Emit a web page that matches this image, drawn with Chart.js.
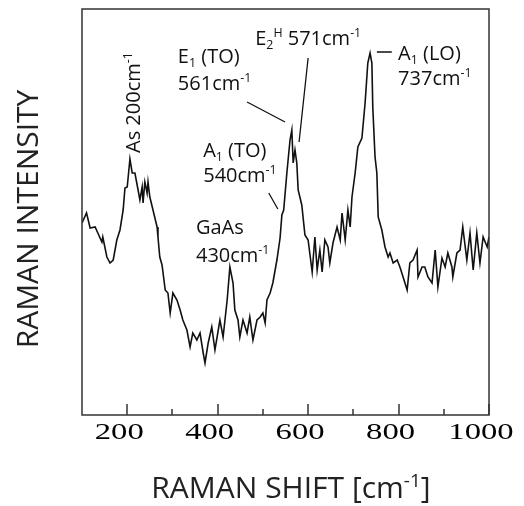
<!DOCTYPE html>
<html>
<head>
<meta charset="utf-8">
<script src="https://cdn.jsdelivr.net/npm/chart.js@4.4.1/dist/chart.umd.min.js"></script>
<style>
  html, body { margin: 0; padding: 0; background: #fff; }
  #wrap { width: 524px; height: 506px; }
</style>
</head>
<body>
<div id="wrap"><canvas id="ramanChart" width="524" height="506"></canvas></div>
<script>
// Raman spectrum (shift in cm-1, intensity in arbitrary units)
const ramanShift = [100, 110, 118, 129, 135, 144, 146, 155, 162, 169, 177, 184, 191, 195, 200, 206, 211, 217, 224, 228,
  233, 235, 239, 244, 246, 250, 257, 266, 268, 272, 277, 284, 290, 295, 301, 310, 317, 323, 332, 339,
  345, 354, 361, 368, 372, 379, 387, 394, 405, 412, 421, 427, 434, 438, 445, 449, 456, 465, 471, 478,
  487, 494, 500, 505, 509, 516, 522, 531, 538, 542, 546, 553, 560, 564, 567, 571, 575, 578, 586, 593,
  600, 609, 615, 620, 626, 631, 637, 644, 648, 655, 664, 671, 675, 682, 688, 693, 697, 704, 710, 719,
  726, 732, 737, 741, 743, 748, 752, 755, 763, 770, 777, 781, 788, 797, 803, 810, 819, 825, 832, 841,
  843, 852, 858, 865, 874, 881, 887, 896, 903, 909, 918, 920, 929, 936, 942, 951, 958, 965, 973, 980,
  987, 996, 1000];
const intensity = [192, 202, 187, 188, 182, 173, 178, 158, 152, 155, 175, 185, 205, 227, 228, 256, 242, 242, 225, 215,
  228, 212, 233, 222, 233, 218, 205, 188, 178, 158, 150, 125, 122, 102, 122, 115, 105, 95, 85, 68,
  82, 75, 82, 62, 52, 72, 88, 65, 95, 78, 115, 148, 132, 105, 95, 78, 95, 82, 98, 75,
  95, 98, 102, 92, 115, 122, 132, 155, 177, 200, 205, 242, 275, 285, 252, 265, 252, 225, 210, 180,
  175, 143, 178, 145, 165, 143, 175, 168, 152, 172, 188, 175, 202, 175, 205, 188, 218, 242, 268, 277,
  312, 352, 362, 352, 308, 258, 242, 198, 185, 168, 158, 162, 152, 155, 148, 138, 125, 152, 155, 165,
  138, 148, 148, 138, 132, 165, 128, 157, 148, 162, 148, 138, 162, 165, 188, 155, 182, 145, 182, 152,
  178, 168, 178];

const majorTicks = [200, 400, 600, 800, 1000];
const minorTicks = [300, 500, 700, 900];

const yTitle = 'RAMAN INTENSITY';

// peak labels: each part is [text, 'n' | 'sub' | 'sup']
const peakLabels = [
  { x: 312, y: 352, parts: [['E', 'n'], ['1', 'sub'], [' (TO)', 'n']] },
  { x: 312, y: 325, parts: [['561cm', 'n'], ['-1', 'sup']] },
  { x: 483, y: 370, parts: [['E', 'n'], ['2', 'sub'], ['H', 'sup'], [' 571cm', 'n'], ['-1', 'sup']] },
  { x: 368, y: 258, parts: [['A', 'n'], ['1', 'sub'], [' (TO)', 'n']] },
  { x: 368, y: 233, parts: [['540cm', 'n'], ['-1', 'sup']] },
  { x: 352, y: 181, parts: [['GaAs', 'n']] },
  { x: 352, y: 153, parts: [['430cm', 'n'], ['-1', 'sup']] },
  { x: 799, y: 355, parts: [['A', 'n'], ['1', 'sub'], [' (LO)', 'n']] },
  { x: 799, y: 330, parts: [['737cm', 'n'], ['-1', 'sup']] },
  { x: 228, y: 262, rotate: true, parts: [['As 200cm', 'n'], ['-1', 'sup']] }
];
// leader lines from label to peak
const leaders = [
  [465, 313, 549, 293],
  [600, 357, 580, 273],
  [513, 222, 533, 206],
  [752, 363, 785, 363]
];

const points = ramanShift.map((s, i) => ({ x: s, y: intensity[i] }));

const sans = '"Open Sans", sans-serif';

function drawRich(ctx, parts, size) {
  let cx = 0;
  parts.forEach(p => {
    const small = p[1] !== 'n';
    const fs = small ? size * 0.62 : size;
    ctx.font = fs + 'px ' + sans;
    let dy = 0;
    if (p[1] === 'sub') dy = size * 0.22;
    if (p[1] === 'sup') dy = -size * 0.38;
    ctx.fillText(p[0], cx, dy);
    cx += ctx.measureText(p[0]).width;
  });
}

const framePlugin = {
  id: 'frame',
  afterDraw(chart) {
    const ctx = chart.ctx;
    const a = chart.chartArea;
    const xs = chart.scales.x;
    const ys = chart.scales.y;
    ctx.save();
    ctx.strokeStyle = '#333';
    ctx.lineWidth = 1.5;
    ctx.strokeRect(a.left, a.top, a.right - a.left, a.bottom - a.top);

    // ticks pointing inward from the bottom
    ctx.beginPath();
    majorTicks.forEach(t => {
      const px = Math.round(xs.getPixelForValue(t));
      ctx.moveTo(px, a.bottom);
      ctx.lineTo(px, a.bottom - 11);
    });
    minorTicks.forEach(t => {
      const px = Math.round(xs.getPixelForValue(t));
      ctx.moveTo(px, a.bottom);
      ctx.lineTo(px, a.bottom - 6);
    });
    ctx.stroke();

    // tick labels, serif and stretched sideways like the original
    ctx.fillStyle = '#000';
    ctx.textAlign = 'center';
    ctx.textBaseline = 'alphabetic';
    ctx.font = '23px "Liberation Serif", serif';
    majorTicks.forEach(t => {
      const px = xs.getPixelForValue(t) - 8;
      ctx.save();
      ctx.translate(px, 439);
      ctx.scale(1.42, 1);
      ctx.fillText(String(t), 0, 0);
      ctx.restore();
    });

    // axis titles
    ctx.fillStyle = '#222';
    ctx.save();
    ctx.translate(291, 498);
    ctx.textAlign = 'left';
    ctx.font = '30px ' + sans;
    const main = 'RAMAN SHIFT [cm';
    const w1 = ctx.measureText(main).width;
    ctx.font = '19px ' + sans;
    const w2 = ctx.measureText('-1').width;
    ctx.font = '30px ' + sans;
    const w3 = ctx.measureText(']').width;
    const sx = -(w1 + w2 + w3) / 2;
    ctx.fillText(main, sx, 0);
    ctx.font = '19px ' + sans;
    ctx.fillText('-1', sx + w1, -11);
    ctx.font = '30px ' + sans;
    ctx.fillText(']', sx + w1 + w2, 0);
    ctx.restore();

    ctx.save();
    ctx.translate(38, 219);
    ctx.rotate(-Math.PI / 2);
    ctx.textAlign = 'center';
    ctx.font = '30px ' + sans;
    ctx.fillText(yTitle, 0, 0);
    ctx.restore();

    // peak labels
    ctx.fillStyle = '#111';
    ctx.textAlign = 'left';
    peakLabels.forEach(l => {
      ctx.save();
      ctx.translate(xs.getPixelForValue(l.x), ys.getPixelForValue(l.y));
      if (l.rotate) ctx.rotate(-Math.PI / 2);
      drawRich(ctx, l.parts, 20);
      ctx.restore();
    });

    ctx.strokeStyle = '#111';
    ctx.lineWidth = 1.3;
    ctx.beginPath();
    leaders.forEach(s => {
      ctx.moveTo(xs.getPixelForValue(s[0]), ys.getPixelForValue(s[1]));
      ctx.lineTo(xs.getPixelForValue(s[2]), ys.getPixelForValue(s[3]));
    });
    ctx.stroke();
    ctx.restore();
  }
};

new Chart(document.getElementById('ramanChart').getContext('2d'), {
  type: 'line',
  data: {
    datasets: [{
      data: points,
      borderColor: '#111',
      borderWidth: 1.6,
      pointRadius: 0,
      tension: 0,
      fill: false
    }]
  },
  options: {
    responsive: false,
    animation: false,
    layout: { padding: { left: 82, right: 35, top: 9, bottom: 91 } },
    plugins: { legend: { display: false }, tooltip: { enabled: false } },
    scales: {
      x: { type: 'linear', min: 100, max: 1000, display: false },
      y: { min: 0, max: 406, display: false }
    }
  },
  plugins: [framePlugin]
});
</script>
</body>
</html>
